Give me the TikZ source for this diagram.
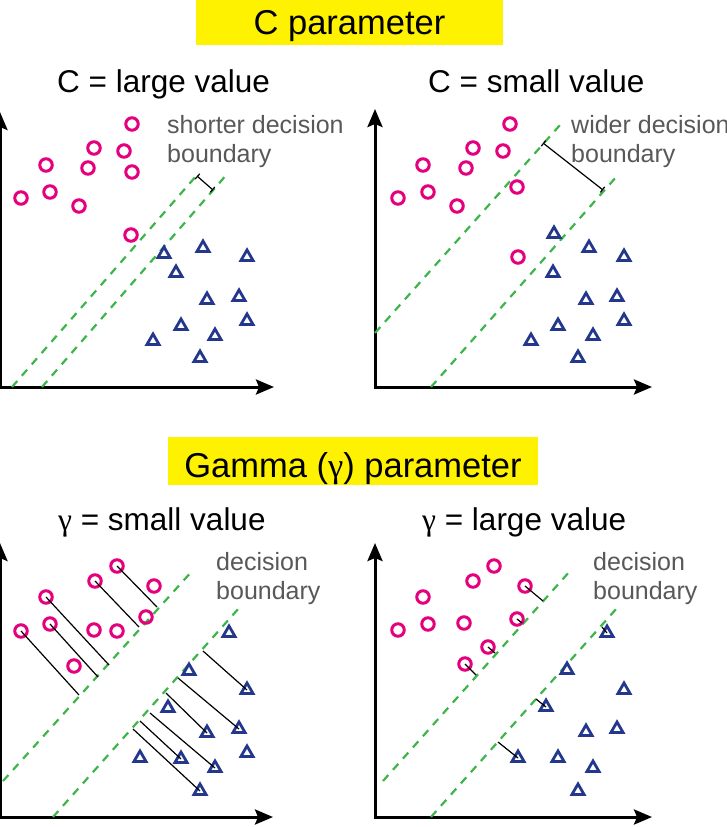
\documentclass[tikz,border=0pt]{standalone}
\usepackage{fontspec}
\setmainfont{Liberation Sans}
\newfontfamily\greekfont{Liberation Serif}
\usetikzlibrary{shapes.geometric,arrows.meta}
\definecolor{circpink}{RGB}{229,0,125}
\definecolor{triblue}{RGB}{35,55,140}
\definecolor{dashgreen}{RGB}{61,181,74}
\definecolor{notegray}{RGB}{88,88,88}
\definecolor{titleyellow}{RGB}{255,242,0}
\begin{document}
\begin{tikzpicture}[x=1pt,y=-1pt,
  circ/.style={circle,draw=circpink,line width=3pt,minimum size=12.5pt,inner sep=0pt},
  tri/.style={regular polygon,regular polygon sides=3,draw=triblue,line width=2.8pt,minimum size=14pt,inner sep=0pt},
  boundary/.style={dashgreen,line width=2.2pt,dash pattern=on 8pt off 7pt},
  axis/.style={line width=3pt,{Stealth[length=18pt,width=15pt,inset=3pt]}-{Stealth[length=18pt,width=15pt,inset=3pt]}},
  dist/.style={line width=1.2pt},
  gap/.style={line width=1.2pt,{Bar[width=7pt]}-{Bar[width=7pt]}},
  title/.style={fill=titleyellow,inner sep=0pt,font=\fontsize{34.5}{40}\selectfont,text depth=0pt},
  sub/.style={anchor=base west,inner sep=0pt,font=\fontsize{31.5}{37}\selectfont},
  note/.style={anchor=north west,inner sep=0pt,align=left,text=notegray,font=\fontsize{25}{29.5}\selectfont}]
\useasboundingbox (0,0) rectangle (727,827);
\clip (0,0) rectangle (727,827);
\node[title,minimum width=307pt,minimum height=46pt,text height=25pt] (ctitle) at (349.5,22) {C parameter};
\node[title,minimum width=370pt,minimum height=48pt,text height=32pt] (gtitle) at (353,461) {Gamma ({\greekfont γ}) parameter};
\node[sub] (clarge) at (57,92) {C = large value};
\node[sub] (csmall) at (428,92) {C = small value};
\node[sub] (gsmall) at (58,530) {{\greekfont γ} = small value};
\node[sub] (glarge) at (422,530) {{\greekfont γ} = large value};
\node[note] (anote) at (167,115) {shorter decision\\boundary};
\node[note] (bnote) at (571,115) {wider decision\\boundary};
\node[note] (cnote) at (216,552) {decision\\boundary};
\node[note] (dnote) at (593,552) {decision\\boundary};
\draw[axis] (0,112) -- (0,387) -- (274,387);
\draw[axis] (375,109) -- (375,387) -- (652,387);
\draw[axis] (0,543) -- (0,817) -- (273,817);
\draw[axis] (375,543) -- (375,817) -- (652,817);
\draw[boundary] (12,387) -- (197,175);
\draw[boundary] (42,387) -- (228,173);
\draw[boundary] (375,333) -- (560,125);
\draw[boundary] (431,387) -- (617,176);
\draw[boundary] (3,781) -- (193,570);
\draw[boundary] (53,817) -- (239,608);
\draw[boundary] (383,781) -- (570,571);
\draw[boundary] (431,817) -- (617,608);
\coordinate (ag1) at (197,176);
\coordinate (ag2) at (213,190);
\coordinate (bg1) at (543,143);
\coordinate (bg2) at (603,190);
\draw[gap] (ag1) -- (ag2);
\draw[gap] (bg1) -- (bg2);
\node[circ] (ao1) at (132,124) {};
\node[circ] (ao2) at (94,148) {};
\node[circ] (ao3) at (124,151) {};
\node[circ] (ao4) at (46,165) {};
\node[circ] (ao5) at (88,168) {};
\node[circ] (ao6) at (132,172) {};
\node[circ] (ao7) at (21,198) {};
\node[circ] (ao8) at (50,192) {};
\node[circ] (ao9) at (79,206) {};
\node[circ] (ao10) at (131,235) {};
\node[tri] (at1) at (164,254) {};
\node[tri] (at2) at (203,248) {};
\node[tri] (at3) at (247,257) {};
\node[tri] (at4) at (176,273) {};
\node[tri] (at5) at (207,300) {};
\node[tri] (at6) at (239,297) {};
\node[tri] (at7) at (181,326) {};
\node[tri] (at8) at (215,336) {};
\node[tri] (at9) at (247,321) {};
\node[tri] (at10) at (153,341) {};
\node[tri] (at11) at (200,358) {};
\node[circ] (bo1) at (510,124) {};
\node[circ] (bo2) at (473,148) {};
\node[circ] (bo3) at (503,151) {};
\node[circ] (bo4) at (423,165) {};
\node[circ] (bo5) at (466,168) {};
\node[circ] (bo6) at (517,187) {};
\node[circ] (bo7) at (398,198) {};
\node[circ] (bo8) at (428,192) {};
\node[circ] (bo9) at (457,206) {};
\node[circ] (bo10) at (518,257) {};
\node[tri] (bt1) at (554,234) {};
\node[tri] (bt2) at (589,248) {};
\node[tri] (bt3) at (624,257) {};
\node[tri] (bt4) at (553,273) {};
\node[tri] (bt5) at (586,300) {};
\node[tri] (bt6) at (617,297) {};
\node[tri] (bt7) at (558,326) {};
\node[tri] (bt8) at (593,336) {};
\node[tri] (bt9) at (624,321) {};
\node[tri] (bt10) at (531,341) {};
\node[tri] (bt11) at (578,358) {};
\node[circ] (co1) at (117,566) {};
\node[circ] (co2) at (95,581) {};
\node[circ] (co3) at (154,586) {};
\node[circ] (co4) at (46,597) {};
\node[circ] (co5) at (146,617) {};
\node[circ] (co6) at (21,631) {};
\node[circ] (co7) at (50,624) {};
\node[circ] (co8) at (94,630) {};
\node[circ] (co9) at (117,631) {};
\node[circ] (co10) at (74,666) {};
\node[tri] (ct1) at (229,633) {};
\node[tri] (ct2) at (189,671) {};
\node[tri] (ct3) at (247,690) {};
\node[tri] (ct4) at (168,708) {};
\node[tri] (ct5) at (207,733) {};
\node[tri] (ct6) at (239,729) {};
\node[tri] (ct7) at (247,753) {};
\node[tri] (ct8) at (140,758) {};
\node[tri] (ct9) at (181,759) {};
\node[tri] (ct10) at (215,768) {};
\node[tri] (ct11) at (200,791) {};
\node[circ] (do1) at (494,566) {};
\node[circ] (do2) at (473,581) {};
\node[circ] (do3) at (525,586) {};
\node[circ] (do4) at (423,597) {};
\node[circ] (do5) at (517,619) {};
\node[circ] (do6) at (398,630) {};
\node[circ] (do7) at (428,624) {};
\node[circ] (do8) at (464,623) {};
\node[circ] (do9) at (488,647) {};
\node[circ] (do10) at (465,664) {};
\node[tri] (dt1) at (607,633) {};
\node[tri] (dt2) at (567,670) {};
\node[tri] (dt3) at (624,690) {};
\node[tri] (dt4) at (546,707) {};
\node[tri] (dt5) at (586,732) {};
\node[tri] (dt6) at (617,729) {};
\node[tri] (dt7) at (558,758) {};
\node[tri] (dt8) at (518,758) {};
\node[tri] (dt9) at (593,768) {};
\node[tri] (dt10) at (578,791) {};
\coordinate (cm1) at (157,607);
\coordinate (cm2) at (139,627);
\coordinate (cm3) at (109,665);
\coordinate (cm4) at (98,677);
\coordinate (cm5) at (79,695);
\coordinate (cm6) at (203,651);
\coordinate (cm7) at (178,678);
\coordinate (cm8) at (166,693);
\coordinate (cm9) at (150,713);
\coordinate (cm10) at (140,721);
\coordinate (cm11) at (133,729);
\draw[dist] (co1.center) -- (cm1);
\draw[dist] (co2.center) -- (cm2);
\draw[dist] (co4.center) -- (cm3);
\draw[dist] (co7.center) -- (cm4);
\draw[dist] (co6.center) -- (cm5);
\draw[dist] (cm6) -- (ct3.center);
\draw[dist] (cm7) -- (ct6.center);
\draw[dist] (cm8) -- (ct5.center);
\draw[dist] (cm9) -- (ct10.center);
\draw[dist] (cm10) -- (ct9.center);
\draw[dist] (cm11) -- (ct11.center);
\coordinate (dm1) at (543,601);
\coordinate (dm2) at (522,623);
\coordinate (dm3) at (495,653);
\coordinate (dm4) at (476,675);
\coordinate (dm5) at (602,627);
\coordinate (dm6) at (536,699);
\coordinate (dm7) at (498,742);
\draw[dist] (do3.center) -- (dm1);
\draw[dist] (do5.center) -- (dm2);
\draw[dist] (do9.center) -- (dm3);
\draw[dist] (do10.center) -- (dm4);
\draw[dist] (dm5) -- (dt1.center);
\draw[dist] (dm6) -- (dt4.center);
\draw[dist] (dm7) -- (dt8.center);
\end{tikzpicture}
\end{document}
